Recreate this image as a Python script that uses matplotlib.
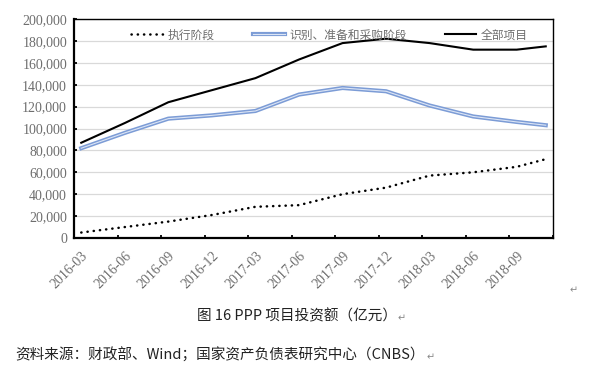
"""PPP project investment by stage (100 million yuan), 2016-03 to 2018-11."""
import matplotlib

matplotlib.use("Agg")
import matplotlib.pyplot as plt  # noqa: E402
from matplotlib.legend_handler import HandlerTuple  # noqa: E402
from matplotlib.ticker import FuncFormatter, MultipleLocator  # noqa: E402

plt.rcParams["font.family"] = ["Noto Sans CJK SC", "DejaVu Sans"]

# months since 2016-03 for each observation (quarterly, last one is 2018-11)
months = [0, 3, 6, 9, 12, 15, 18, 21, 24, 27, 30, 32]
tick_labels = ["2016-03", "2016-06", "2016-09", "2016-12", "2017-03", "2017-06",
               "2017-09", "2017-12", "2018-03", "2018-06", "2018-09"]

execution = [5000, 10000, 15000, 21000, 28500, 30000,
             40000, 46000, 57000, 60000, 65000, 72000]
preparation = [82000, 96000, 109000, 112000, 116000, 131000,
               137000, 134000, 121000, 111000, 106000, 103000]
total = [87000, 105000, 124000, 135000, 146000, 163000,
         178000, 182000, 178000, 172000, 172000, 175000]

series_names = ["执行阶段", "识别、准备和采购阶段", "全部项目"]
caption = "图 16 PPP 项目投资额（亿元）"
source = "资料来源：财政部、Wind；国家资产负债表研究中心（CNBS）"

GRAY = "#6E6E6E"
BLUE_EDGE = "#7C9CD6"
BLUE_CORE = "#DCE5F5"

fig = plt.figure(figsize=(5.94, 3.73), dpi=100)
ax = fig.add_axes([74 / 594, 1 - 238 / 373, (553 - 74) / 594, (238 - 19) / 373])

ax.set_xlim(-0.5, 32.5)
ax.set_ylim(0, 200000)
ax.yaxis.set_major_locator(MultipleLocator(20000))
ax.yaxis.set_major_formatter(FuncFormatter(lambda v, _: f"{int(v):,}"))
ax.grid(axis="y", color="#D9D9D9", linewidth=0.9, zorder=0)
ax.set_axisbelow(True)

l_exec, = ax.plot(months, execution, color="black", linewidth=1.8,
                  linestyle=(0, (0.1, 2.4)), dash_capstyle="round", zorder=3)
l_prep_edge, = ax.plot(months, preparation, color=BLUE_EDGE, linewidth=3.0,
                       solid_joinstyle="round", zorder=3)
l_prep_core, = ax.plot(months, preparation, color=BLUE_CORE, linewidth=0.8,
                       solid_joinstyle="round", zorder=4)
l_total, = ax.plot(months, total, color="black", linewidth=1.5, zorder=3)

# month-boundary ticks every quarter, labels sit on the data months
ax.set_xticks(months[:-1])
ax.set_xticklabels(tick_labels, rotation=45, ha="right", rotation_mode="anchor",
                   family=["Liberation Serif"], fontsize=10, color=GRAY)
ax.set_xticks([-0.5 + 3 * k for k in range(12)], minor=True)
ax.tick_params(axis="x", which="major", length=0, pad=8)
ax.tick_params(axis="x", which="minor", direction="in", length=2.5, width=1.3)
ax.tick_params(axis="y", direction="in", length=2.5, width=1.3, pad=5,
               labelsize=10, labelcolor=GRAY)
for lab in ax.get_yticklabels():
    lab.set_family(["Liberation Serif"])

for side in ("left", "bottom"):
    ax.spines[side].set_linewidth(1.6)
for side in ("top", "right"):
    ax.spines[side].set_linewidth(1.0)

leg = ax.legend([l_exec, (l_prep_edge, l_prep_core), l_total], series_names,
                handler_map={tuple: HandlerTuple(ndivide=1, pad=0)},
                loc="center", bbox_to_anchor=(0.534, 0.927), ncol=3,
                frameon=False, fontsize=8.5, handlelength=2.7,
                handletextpad=0.4, columnspacing=3.2, borderaxespad=0)
for txt in leg.get_texts():
    txt.set_color(GRAY)

fig.text(297 / 594, 1 - 316 / 373, caption, ha="center", va="center",
         fontsize=10.5, color="#222222")
fig.text(398 / 594, 1 - 318 / 373, "↵", ha="left", va="center",
         fontsize=7, color="#888888")
fig.text(15 / 594, 1 - 355 / 373, source, ha="left", va="center",
         fontsize=10.5, color="#222222")
fig.text(427 / 594, 1 - 357 / 373, "↵", ha="left", va="center",
         fontsize=7, color="#888888")
fig.text(570 / 594, 1 - 290 / 373, "↵", ha="left", va="center",
         fontsize=7, color="#888888")

fig.savefig("out.png", dpi=100)
plt.close(fig)
